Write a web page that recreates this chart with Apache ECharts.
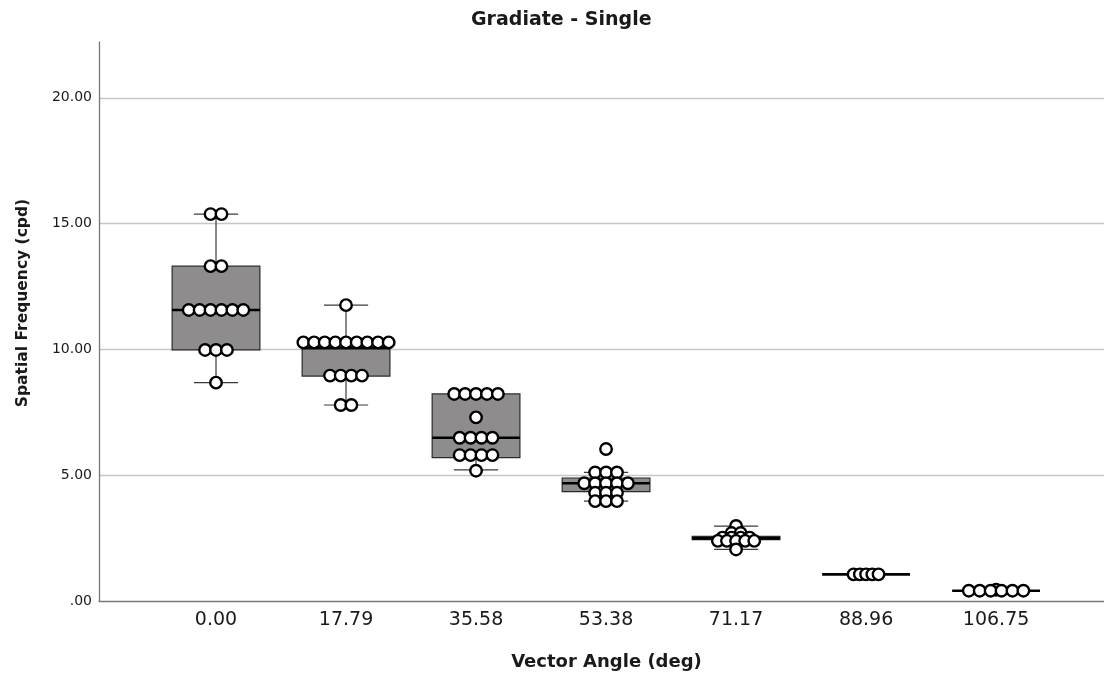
<!DOCTYPE html>
<html>
<head>
<meta charset="utf-8">
<script src="https://cdn.jsdelivr.net/npm/echarts@6/dist/echarts.min.js"></script>
<style>
  html, body { margin: 0; padding: 0; background: #fff; }
  #chart { width: 1104px; height: 678px; }
</style>
</head>
<body>
<div id="chart"></div>
<script>
// Vector angle groups (deg)
const categories = ['0.00', '17.79', '35.58', '53.38', '71.17', '88.96', '106.75'];

// Box-and-whisker summary per group (cpd)
const whiskerLow  = [8.68, 7.79, 5.21, 3.97, 2.05, 1.06, 0.41];
const quartile1   = [9.98, 8.94, 5.70, 4.35, 2.44, 1.06, 0.41];
const medians     = [11.57, 10.05, 6.49, 4.68, 2.49, 1.06, 0.41];
const quartile3   = [13.31, 10.05, 8.23, 4.89, 2.57, 1.06, 0.41];
const whiskerHigh = [15.38, 11.76, 8.23, 5.11, 2.98, 1.06, 0.41];

// Individual observations per group (cpd)
const obs0 = [15.38, 15.38, 13.31, 13.31, 11.57, 11.57, 11.57, 11.57, 11.57, 11.57, 9.98, 9.98, 9.98, 8.68];
const obs1 = [11.76, 10.28, 10.28, 10.28, 10.28, 10.28, 10.28, 10.28, 10.28, 10.28, 8.96, 8.96, 8.96, 8.96, 7.79, 7.79];
const obs2 = [8.23, 8.23, 8.23, 8.23, 8.23, 7.30, 6.49, 6.49, 6.49, 6.49, 5.80, 5.80, 5.80, 5.80, 5.18];
const obs3 = [6.04, 5.11, 5.11, 5.11, 4.68, 4.68, 4.68, 4.68, 4.68, 4.30, 4.30, 4.30, 3.97, 3.97, 3.97];
const obs4 = [2.98, 2.70, 2.70, 2.52, 2.52, 2.52, 2.52, 2.39, 2.39, 2.39, 2.39, 2.39, 2.05];
const obs5 = [1.06, 1.06, 1.06, 1.06, 1.06];
const obs6 = [0.45, 0.41, 0.41, 0.41, 0.41, 0.41, 0.41];
const observations = [obs0, obs1, obs2, obs3, obs4, obs5, obs6];

// Y axis tick labels
const yTickValues = [0, 5, 10, 15, 20];
const yTickLabels = ['.00', '5.00', '10.00', '15.00', '20.00'];

// Layout constants (in x-axis units: one group = 1)
const BOX_WIDTH = 0.675;
const CAP_WIDTH = 0.34;
const DOT_STEP = [0.084, 0.082, 0.084, 0.084, 0.07, 0.048, 0.084];

const boxData = categories.map((c, i) =>
  [i, whiskerLow[i], quartile1[i], medians[i], quartile3[i], whiskerHigh[i]]);

// Dot plot: equal values in a group are stacked side by side, centred on the group
const dotData = [];
observations.forEach((vals, i) => {
  const counts = {};
  vals.forEach(v => { counts[v] = (counts[v] || 0) + 1; });
  const seen = {};
  vals.forEach(v => {
    const n = counts[v];
    const k = seen[v] || 0;
    seen[v] = k + 1;
    dotData.push([i + (k - (n - 1) / 2) * DOT_STEP[i], v]);
  });
});

const FONT = 'DejaVu Sans';
const chart = echarts.init(document.getElementById('chart'), null, { renderer: 'canvas' });

chart.setOption({
  animation: false,
  backgroundColor: '#ffffff',
  title: {
    text: 'Gradiate - Single',
    left: 466,
    top: 6,
    textStyle: { fontFamily: FONT, fontWeight: 'bold', fontSize: 19, color: '#1a1a1a' }
  },
  grid: { left: 99, right: 0, top: 42, bottom: 77 },
  xAxis: {
    type: 'value',
    min: -0.9,
    max: 6.83,
    name: 'Vector Angle (deg)',
    nameLocation: 'middle',
    nameGap: 52,
    nameTextStyle: { fontFamily: FONT, fontWeight: 'bold', fontSize: 18, color: '#1a1a1a', padding: [0, 0, 0, 10] },
    axisLine: { show: true, onZero: false, lineStyle: { color: '#777777', width: 1.3 } },
    axisTick: { show: false },
    splitLine: { show: false },
    axisLabel: {
      customValues: categories.map((c, i) => i),
      formatter: v => categories[Math.round(v)],
      margin: 10,
      fontFamily: FONT,
      fontSize: 19,
      color: '#1a1a1a'
    }
  },
  yAxis: {
    type: 'value',
    min: 0,
    max: 22.22,
    interval: 5,
    axisLine: { show: true, onZero: false, lineStyle: { color: '#777777', width: 1.3 } },
    axisTick: { show: false },
    splitLine: { show: true, showMinLine: false, showMaxLine: false, lineStyle: { color: '#c6c6c6', width: 1.3 } },
    axisLabel: {
      showMaxLabel: false,
      margin: 7,
      fontFamily: FONT,
      fontSize: 14,
      color: '#1a1a1a',
      formatter: v => {
        const idx = yTickValues.indexOf(v);
        return idx >= 0 ? yTickLabels[idx] : '';
      }
    }
  },
  graphic: [{
    type: 'text',
    x: 23,
    y: 303,
    rotation: Math.PI / 2,
    style: {
      text: 'Spatial Frequency (cpd)',
      font: 'bold 15.5px "DejaVu Sans"',
      fill: '#1a1a1a',
      align: 'center',
      verticalAlign: 'middle'
    }
  }],
  series: [
    {
      type: 'custom',
      z: 2,
      data: boxData,
      encode: { x: 0, y: [1, 2, 3, 4, 5] },
      renderItem: (params, api) => {
        const x = api.value(0);
        const lo = api.coord([x, api.value(1)]);
        const q1 = api.coord([x, api.value(2)]);
        const md = api.coord([x, api.value(3)]);
        const q3 = api.coord([x, api.value(4)]);
        const hi = api.coord([x, api.value(5)]);
        const halfBox = api.size([BOX_WIDTH, 0])[0] / 2;
        const halfCap = api.size([CAP_WIDTH, 0])[0] / 2;
        const cx = lo[0];
        const whisker = { stroke: '#3a3a3a', lineWidth: 1.2 };
        const children = [];
        if (hi[1] < q3[1] - 0.5) {
          children.push({ type: 'line', shape: { x1: cx, y1: hi[1], x2: cx, y2: q3[1] }, style: whisker });
          children.push({ type: 'line', shape: { x1: cx - halfCap, y1: hi[1], x2: cx + halfCap, y2: hi[1] }, style: whisker });
        }
        if (lo[1] > q1[1] + 0.5) {
          children.push({ type: 'line', shape: { x1: cx, y1: q1[1], x2: cx, y2: lo[1] }, style: whisker });
          children.push({ type: 'line', shape: { x1: cx - halfCap, y1: lo[1], x2: cx + halfCap, y2: lo[1] }, style: whisker });
        }
        children.push({
          type: 'rect',
          shape: { x: cx - halfBox, y: q3[1], width: halfBox * 2, height: Math.max(q1[1] - q3[1], 0) },
          style: { fill: '#8f8c8e', stroke: '#2a2a2a', lineWidth: 1.2 }
        });
        children.push({
          type: 'line',
          shape: { x1: cx - halfBox, y1: md[1], x2: cx + halfBox, y2: md[1] },
          style: { stroke: '#000000', lineWidth: 2.6 }
        });
        return { type: 'group', children };
      }
    },
    {
      type: 'scatter',
      z: 3,
      data: dotData,
      symbol: 'circle',
      symbolSize: 11.5,
      itemStyle: { color: '#ffffff', borderColor: '#000000', borderWidth: 2.4, opacity: 1 }
    }
  ]
});
</script>
</body>
</html>
